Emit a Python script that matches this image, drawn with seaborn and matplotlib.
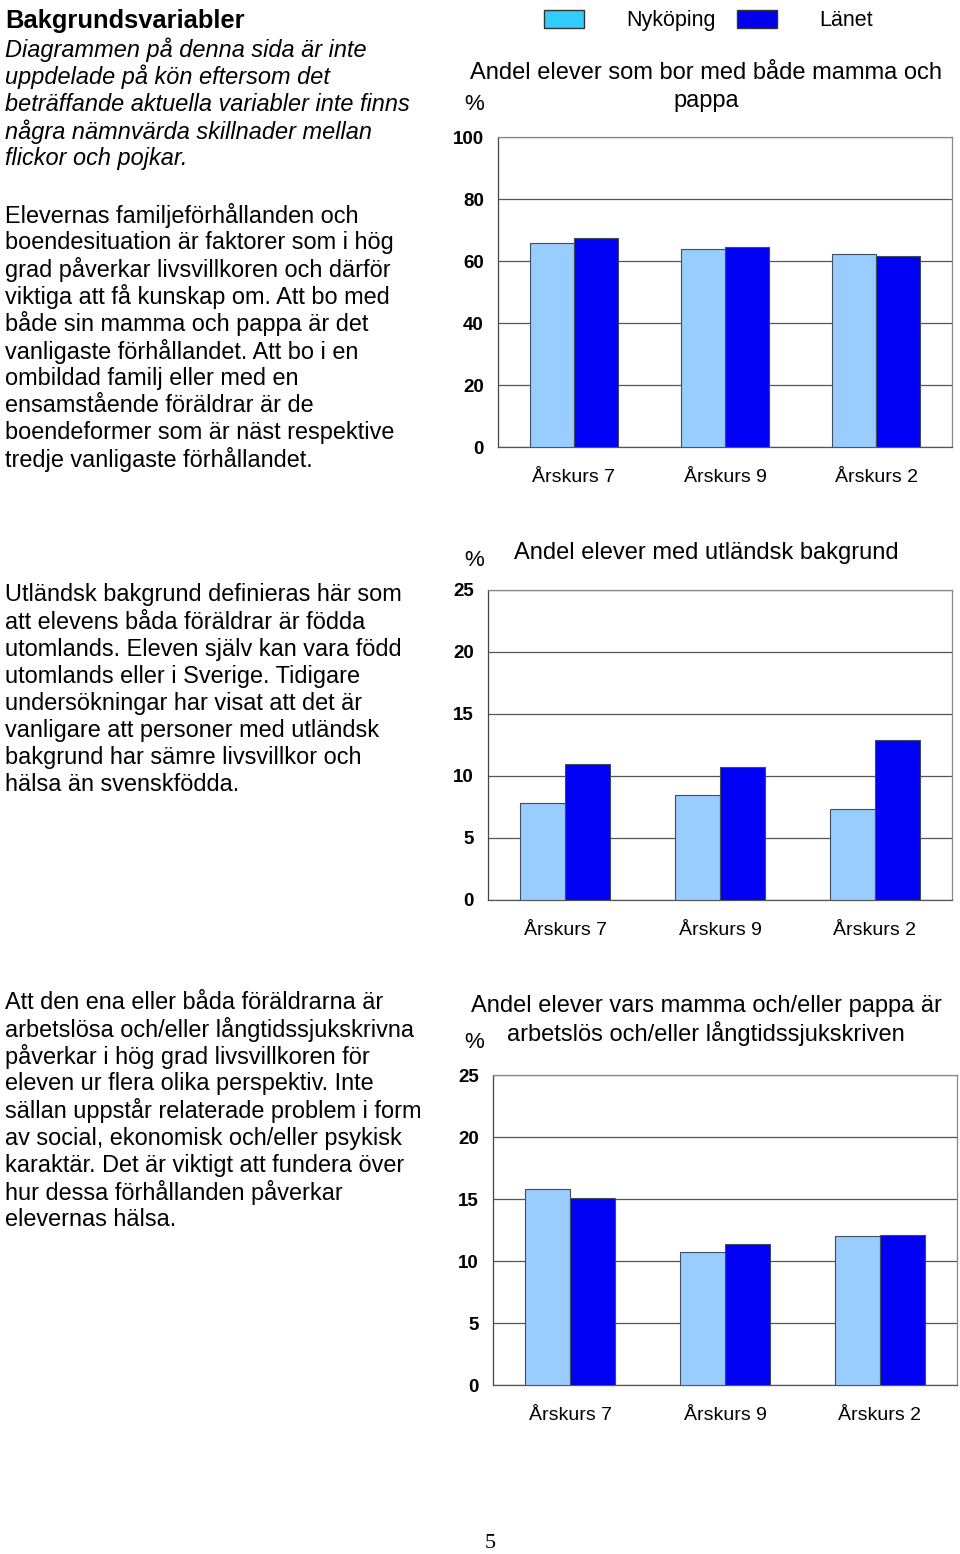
import pandas as pd
import matplotlib.pyplot as plt
import seaborn as sns
from matplotlib.patches import Patch

# --- data ---
grades = ["Årskurs 7", "Årskurs 9", "Årskurs 2"]
groups = ["Nyköping", "Länet"]

both_parents_nyk = [65.7, 63.9, 62.2]
both_parents_lan = [67.3, 64.6, 61.6]

foreign_nyk = [7.8, 8.5, 7.3]
foreign_lan = [11.0, 10.7, 12.9]

unemployed_nyk = [15.8, 10.7, 12.0]
unemployed_lan = [15.1, 11.4, 12.1]

ticks_1 = [0, 20, 40, 60, 80, 100]
ticks_2 = [0, 5, 10, 15, 20, 25]
ticks_3 = [0, 5, 10, 15, 20, 25]

title_1 = ["Andel elever som bor med både mamma och", "pappa"]
title_2 = ["Andel elever med utländsk bakgrund"]
title_3 = ["Andel elever vars mamma och/eller pappa är",
           "arbetslös och/eller långtidssjukskriven"]

heading = "Bakgrundsvariabler"
intro_lines = [
    "Diagrammen på denna sida är inte",
    "uppdelade på kön eftersom det",
    "beträffande aktuella variabler inte finns",
    "några nämnvärda skillnader mellan",
    "flickor och pojkar.",
]
text_1 = [
    "Elevernas familjeförhållanden och",
    "boendesituation är faktorer som i hög",
    "grad påverkar livsvillkoren och därför",
    "viktiga att få kunskap om. Att bo med",
    "både sin mamma och pappa är det",
    "vanligaste förhållandet. Att bo i en",
    "ombildad familj eller med en",
    "ensamstående föräldrar är de",
    "boendeformer som är näst respektive",
    "tredje vanligaste förhållandet.",
]
text_2 = [
    "Utländsk bakgrund definieras här som",
    "att elevens båda föräldrar är födda",
    "utomlands. Eleven själv kan vara född",
    "utomlands eller i Sverige. Tidigare",
    "undersökningar har visat att det är",
    "vanligare att personer med utländsk",
    "bakgrund har sämre livsvillkor och",
    "hälsa än svenskfödda.",
]
text_3 = [
    "Att den ena eller båda föräldrarna är",
    "arbetslösa och/eller långtidssjukskrivna",
    "påverkar i hög grad livsvillkoren för",
    "eleven ur flera olika perspektiv. Inte",
    "sällan uppstår relaterade problem i form",
    "av social, ekonomisk och/eller psykisk",
    "karaktär. Det är viktigt att fundera över",
    "hur dessa förhållanden påverkar",
    "elevernas hälsa.",
]

bar_colors = ["#99CCFF", "#0000F5"]
legend_colors = ["#33CCFF", "#0000EE"]

sns.set_theme(style="white")
plt.rcParams["font.family"] = ["Liberation Sans", "DejaVu Sans"]
plt.rcParams["text.color"] = "black"
plt.rcParams["xtick.labelcolor"] = "black"
plt.rcParams["ytick.labelcolor"] = "black"

W, H = 960, 1554
fig = plt.figure(figsize=(W / 100, H / 100), dpi=100)


def fx(x):
    return x / W


def fy(y):
    return 1 - y / H


def make_df(nyk, lan):
    rows = []
    for g, a, b in zip(grades, nyk, lan):
        rows.append({"grade": g, "group": groups[0], "value": a})
        rows.append({"grade": g, "group": groups[1], "value": b})
    return pd.DataFrame(rows)


def bar_chart(rect, nyk, lan, ticks):
    l, r, t, b = rect
    ax = fig.add_axes([fx(l), fy(b), (r - l) / W, (b - t) / H])
    df = make_df(nyk, lan)
    sns.barplot(data=df, x="grade", y="value", hue="group", hue_order=groups,
                palette=bar_colors, saturation=1, width=0.58, edgecolor="#3e4c5c",
                linewidth=0.8, ax=ax, legend=False, zorder=3)
    ax.set_ylim(ticks[0], ticks[-1])
    ax.set_yticks(ticks)
    ax.set_yticklabels([str(v) for v in ticks], fontweight="bold", fontsize=13.5)
    ax.set_xlabel("")
    ax.set_ylabel("")
    ax.tick_params(axis="x", length=0, labelsize=14, pad=15.5)
    ax.tick_params(axis="y", length=4.3, width=0.9, color="#444444", pad=5.8, direction="out")
    ax.grid(axis="y", color="#555555", linewidth=0.9, zorder=0)
    ax.set_axisbelow(True)
    ax.spines["left"].set_color("#444444")
    ax.spines["bottom"].set_color("#555555")
    ax.spines["top"].set_color("#888888")
    ax.spines["right"].set_color("#888888")
    for s in ax.spines.values():
        s.set_linewidth(0.9)
    return ax


bar_chart((498, 952, 137, 447), both_parents_nyk, both_parents_lan, ticks_1)
bar_chart((488, 952, 590, 900), foreign_nyk, foreign_lan, ticks_2)
bar_chart((493, 957, 1075, 1385), unemployed_nyk, unemployed_lan, ticks_3)

# chart titles, one text per line, and the % labels
for lines, y0 in [(title_1, 73), (title_2, 553), (title_3, 1006)]:
    for i, line in enumerate(lines):
        fig.text(fx(706), fy(y0 + i * 28), line, ha="center", va="center", fontsize=17)
for yy in [104, 560, 1043]:
    fig.text(fx(474), fy(yy), "%", ha="center", va="center", fontsize=16)

# legend at the top
handles = [Patch(facecolor=c, edgecolor="#333333", linewidth=1.0) for c in legend_colors]
fig.legend(handles, groups, loc="upper left", bbox_to_anchor=(fx(544), fy(10)),
           ncol=2, frameon=False, fontsize=15.5, handlelength=1.86, handleheight=0.9,
           handletextpad=1.95, columnspacing=1.0, borderaxespad=0, borderpad=0)

# left column text
fig.text(fx(5), fy(21), heading, ha="left", va="center", fontsize=18.4, fontweight="bold")
for i, line in enumerate(intro_lines):
    fig.text(fx(5), fy(50 + i * 27.1), line, ha="left", va="center", fontsize=16.9, style="italic")
for i, line in enumerate(text_1):
    fig.text(fx(5), fy(215 + i * 27.2), line, ha="left", va="center", fontsize=16.9)
for i, line in enumerate(text_2):
    fig.text(fx(5), fy(595 + i * 27.1), line, ha="left", va="center", fontsize=16.9)
for i, line in enumerate(text_3):
    fig.text(fx(5), fy(1002 + i * 27.2), line, ha="left", va="center", fontsize=16.9)

# page number
fig.text(fx(490), fy(1543), "5", ha="center", va="center", fontsize=16, family="Liberation Serif")

fig.savefig("out.png", dpi=100, facecolor="white")
